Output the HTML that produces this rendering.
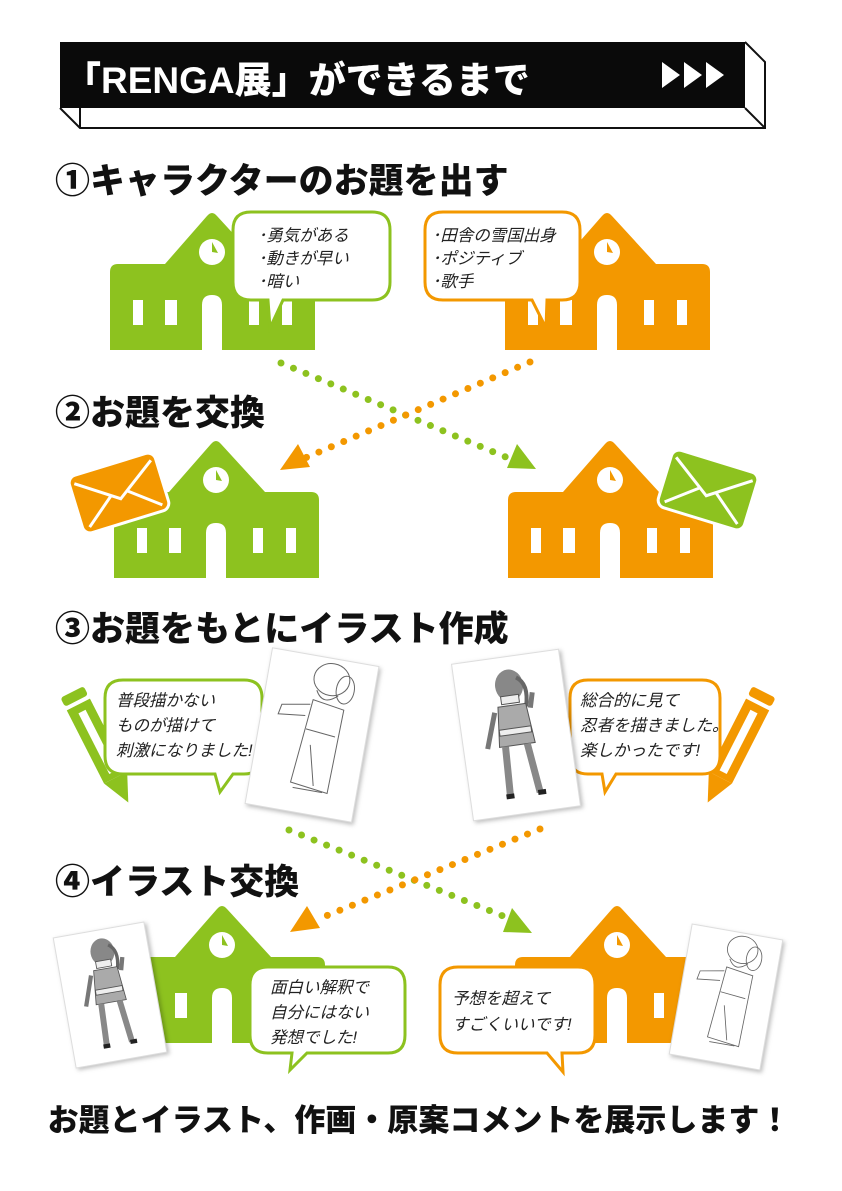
<!DOCTYPE html>
<html><head><meta charset="utf-8"><style>
html,body{margin:0;padding:0;background:#fff;}
svg{display:block;}
.h{font-family:"Liberation Sans","Noto Sans CJK JP",sans-serif;font-weight:900;fill:#111;}
.t{font-family:"Liberation Sans","Noto Sans CJK JP",sans-serif;font-size:16.5px;fill:#222;font-style:italic;}
</style></head><body>
<svg width="842" height="1191" viewBox="0 0 842 1191" xmlns="http://www.w3.org/2000/svg">
<defs>
<g id="school">
<path d="M0,60 Q0,52 8,52 L55,52 L97,4 Q102,-2 107,4 L151,52 L197,52 Q205,52 205,60 L205,138 L0,138 Z"/>
<circle cx="102" cy="40" r="13" fill="#fff"/>
<path d="M102,30 L102,40 L108,41 Z" fill="currentColor"/>
<rect x="23" y="88" width="10" height="25" fill="#fff"/>
<rect x="55" y="88" width="12" height="25" fill="#fff"/>
<path d="M92,138 L92,93 Q92,83 102,83 Q112,83 112,93 L112,138 Z" fill="#fff"/>
<rect x="139" y="88" width="10" height="25" fill="#fff"/>
<rect x="172" y="88" width="10" height="25" fill="#fff"/>
</g>
<g id="env">
<rect x="-45" y="-30" width="90" height="60" rx="8" stroke="#fff" stroke-width="3"/>
<path d="M-40,-22 L0,6 L40,-22 M-38,24 L-8,0 M38,24 L8,0" stroke="#fff" stroke-width="3" fill="none"/>
</g>
<g id="pencil">
<rect x="-13" y="0" width="26" height="10" rx="3"/>
<rect x="-13" y="14" width="26" height="82"/>
<rect x="-4" y="22" width="8" height="68" fill="#fff"/>
<path d="M-13,96 L13,96 L0,124 Z"/>
</g>
<g id="girl" stroke="#555" stroke-width="1" fill="none">
<ellipse cx="0" cy="-55" rx="14" ry="16" fill="#888" stroke="none"/>
<path d="M8,-62 q12,8 6,30" stroke="#666" stroke-width="4"/>
<rect x="-10" y="-45" width="18" height="8" fill="#eee"/>
<path d="M-14,-35 L14,-35 L18,5 L-18,5 Z" fill="#aaa"/>
<rect x="-16" y="-12" width="32" height="6" fill="#eee"/>
<path d="M-18,-30 L-30,5 M18,-30 L22,-45" stroke="#777" stroke-width="5"/>
<path d="M-12,5 L-14,55 M10,5 L16,55" stroke="#888" stroke-width="7"/>
<path d="M-18,55 h8 M14,55 h8" stroke="#222" stroke-width="5"/>
</g>
<g id="elder" stroke="#666" stroke-width="1" fill="none">
<ellipse cx="5" cy="-58" rx="18" ry="16"/>
<ellipse cx="20" cy="-50" rx="9" ry="14"/>
<path d="M-8,-45 q8,15 22,2"/>
<path d="M-12,-30 L-40,-25 L-42,-15 L-15,-18"/>
<path d="M-10,-35 L-18,50 L20,55 L22,-30 Z"/>
<path d="M-12,-5 L18,-2 M-5,10 L5,50 M-15,55 h30"/>
</g>
</defs>

<!-- header -->
<path d="M60,108 L80,128 L765,128 L765,62 L745,42" fill="none" stroke="#111" stroke-width="2"/>
<path d="M80,108 L80,128 M745,108 L765,128" stroke="#111" stroke-width="2"/>
<rect x="60" y="42" width="685" height="66" fill="#0a0a0a"/>
<text x="64" y="93" class="h" font-size="37" style="fill:#fff">「RENGA展」ができるまで</text>
<path d="M662,62 L680,75 L662,88 Z M684,62 L702,75 L684,88 Z M706,62 L724,75 L706,88 Z" fill="#fff"/>

<!-- headings -->
<text x="55" y="193" class="h" font-size="35">①キャラクターのお題を出す</text>
<text x="55" y="425" class="h" font-size="35">②お題を交換</text>
<text x="55" y="641" class="h" font-size="35">③お題をもとにイラスト作成</text>
<text x="55" y="894" class="h" font-size="35">④イラスト交換</text>
<text x="419" y="1131" class="h" font-size="31" text-anchor="middle">お題とイラスト、作画・原案コメントを展示します！</text>

<!-- step1 schools -->
<use href="#school" x="110" y="212" fill="#8dc21f" color="#8dc21f"/>
<use href="#school" x="505" y="212" fill="#f39800" color="#f39800"/>
<!-- step1 bubbles -->
<path d="M251,212 H372 Q390,212 390,230 V282 Q390,300 372,300 H283 L270,328 L268,300 H251 Q233,300 233,282 V230 Q233,212 251,212 Z" fill="#fff" stroke="#8dc21f" stroke-width="3"/>
<text class="t"><tspan x="258" y="241">･勇気がある</tspan><tspan x="258" y="264">･動きが早い</tspan><tspan x="258" y="287">･暗い</tspan></text>
<path d="M443,212 H562 Q580,212 580,230 V282 Q580,300 562,300 H547 L546,328 L532,300 H443 Q425,300 425,282 V230 Q425,212 443,212 Z" fill="#fff" stroke="#f39800" stroke-width="3"/>
<text class="t"><tspan x="432" y="241">･田舎の雪国出身</tspan><tspan x="432" y="264">･ポジティブ</tspan><tspan x="432" y="287">･歌手</tspan></text>

<!-- dots 1-2 -->
<line x1="281" y1="363" x2="508" y2="458" stroke="#8dc21f" stroke-width="7" stroke-linecap="round" stroke-dasharray="0 13.5"/>
<line x1="530" y1="362" x2="305" y2="458" stroke="#f39800" stroke-width="7" stroke-linecap="round" stroke-dasharray="0 13.5"/>
<path d="M280,470 L298,444 L310,467 Z" fill="#f39800"/>
<path d="M536,469 L507,468 L517,444 Z" fill="#8dc21f"/>

<!-- step2 schools -->
<use href="#school" x="114" y="440" fill="#8dc21f" color="#8dc21f"/>
<use href="#school" x="508" y="440" fill="#f39800" color="#f39800"/>
<use href="#env" transform="translate(119,493) rotate(-17)" fill="#f39800"/>
<use href="#env" transform="translate(708,490) rotate(17)" fill="#8dc21f"/>

<!-- step3 -->
<use href="#pencil" transform="translate(72,692) rotate(-27)" fill="#8dc21f"/>
<use href="#pencil" transform="translate(764,692) rotate(27)" fill="#f39800"/>
<path d="M123,680 H244 Q262,680 262,698 V756 Q262,774 244,774 H233 L220,792 L215,774 H123 Q105,774 105,756 V698 Q105,680 123,680 Z" fill="#fff" stroke="#8dc21f" stroke-width="3"/>
<text class="t"><tspan x="116" y="706">普段描かない</tspan><tspan x="116" y="731">ものが描けて</tspan><tspan x="116" y="756">刺激になりました!</tspan></text>
<path d="M588,680 H702 Q720,680 720,698 V756 Q720,774 702,774 H616 L605,792 L602,774 H588 Q570,774 570,756 V698 Q570,680 588,680 Z" fill="#fff" stroke="#f39800" stroke-width="3"/>
<text class="t"><tspan x="580" y="706">総合的に見て</tspan><tspan x="580" y="731">忍者を描きました。</tspan><tspan x="580" y="756">楽しかったです!</tspan></text>

<g transform="translate(312,735) rotate(10)">
<rect x="-54" y="-79" width="108" height="158" fill="#fff" stroke="#ddd" stroke-width="1" style="filter:drop-shadow(2px 2px 2px rgba(0,0,0,.25))"/>
<use href="#elder" transform="translate(5,0)"/>
</g>
<g transform="translate(516,735) rotate(-8)">
<rect x="-54" y="-79" width="108" height="158" fill="#fff" stroke="#ddd" stroke-width="1" style="filter:drop-shadow(2px 2px 2px rgba(0,0,0,.25))"/>
<use href="#girl" transform="translate(0,5)"/>
</g>

<!-- dots 3-4 -->
<line x1="289" y1="830" x2="508" y2="918" stroke="#8dc21f" stroke-width="7" stroke-linecap="round" stroke-dasharray="0 13.5"/>
<line x1="540" y1="829" x2="316" y2="920" stroke="#f39800" stroke-width="7" stroke-linecap="round" stroke-dasharray="0 13.5"/>
<path d="M290,932 L307,906 L320,928 Z" fill="#f39800"/>
<path d="M532,933 L503,932 L512,908 Z" fill="#8dc21f"/>

<!-- step4 -->
<use href="#school" x="120" y="905" fill="#8dc21f" color="#8dc21f"/>
<use href="#school" x="515" y="905" fill="#f39800" color="#f39800"/>
<rect x="500" y="1043" width="230" height="5" fill="#fff"/>
<path d="M268,967 H388 Q405,967 405,985 V1035 Q405,1053 388,1053 H307 L290,1070 L292,1053 H268 Q250,1053 250,1035 V985 Q250,967 268,967 Z" fill="#fff" stroke="#8dc21f" stroke-width="3"/>
<text class="t"><tspan x="270" y="993">面白い解釈で</tspan><tspan x="270" y="1018">自分にはない</tspan><tspan x="270" y="1043">発想でした!</tspan></text>
<path d="M458,967 H578 Q595,967 595,985 V1035 Q595,1053 578,1053 H562 L563,1072 L547,1053 H458 Q440,1053 440,1035 V985 Q440,967 458,967 Z" fill="#fff" stroke="#f39800" stroke-width="3"/>
<text class="t"><tspan x="452" y="1004">予想を超えて</tspan><tspan x="452" y="1030">すごくいいです!</tspan></text>

<g transform="translate(110,995) rotate(-10)">
<rect x="-46" y="-66" width="92" height="132" fill="#fff" stroke="#ddd" stroke-width="1" style="filter:drop-shadow(2px 2px 2px rgba(0,0,0,.25))"/>
<use href="#girl" transform="translate(0,3) scale(0.85)"/>
</g>
<g transform="translate(726,997) rotate(10)">
<rect x="-46" y="-66" width="92" height="132" fill="#fff" stroke="#ddd" stroke-width="1" style="filter:drop-shadow(2px 2px 2px rgba(0,0,0,.25))"/>
<use href="#elder" transform="translate(4,0) scale(0.85)"/>
</g>
</svg>
</body></html>
